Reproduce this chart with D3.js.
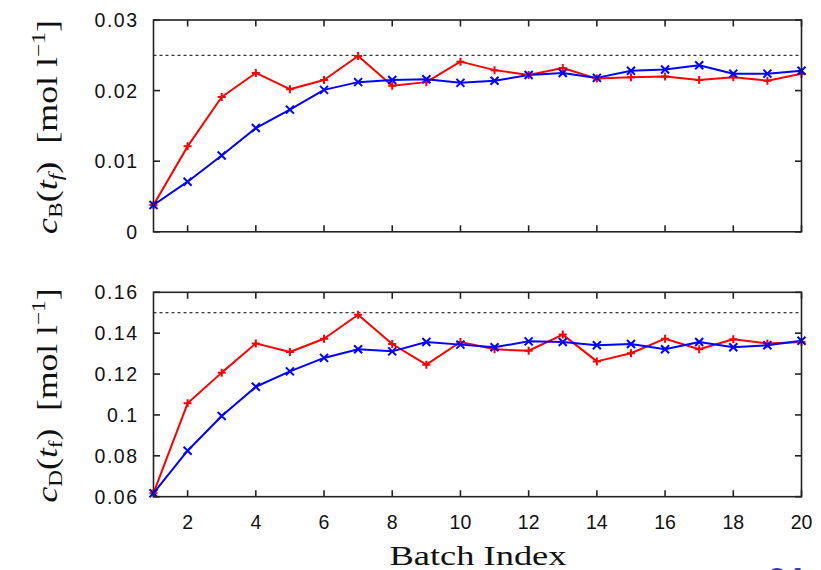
<!DOCTYPE html>
<html>
<head>
<meta charset="utf-8">
<script src="https://cdn.jsdelivr.net/npm/d3@7"></script>
<style>
  html, body { margin: 0; padding: 0; background: #fff; }
  svg { display: block; }
  .tick-label { font-family: "Liberation Sans", Arial, sans-serif; font-size: 19.5px; fill: #111; }
  .axis-title { font-family: "Liberation Serif", "DejaVu Serif", serif; fill: #111; }
</style>
</head>
<body>
<svg id="chart" width="821" height="570"></svg>
<script>
// Batch indices on the shared horizontal axis
const batches = [1, 2, 3, 4, 5, 6, 7, 8, 9, 10, 11, 12, 13, 14, 15, 16, 17, 18, 19, 20];
const xTicks = [2, 4, 6, 8, 10, 12, 14, 16, 18, 20];

// Final concentration of B per batch
const cB_red  = [0.0038, 0.0121, 0.0191, 0.0225, 0.0202, 0.0215, 0.0249, 0.0207, 0.0212, 0.0241,
                 0.0229, 0.0222, 0.0232, 0.0217, 0.0219, 0.0220, 0.0215, 0.0219, 0.0214, 0.0224];
const cB_blue = [0.0038, 0.0071, 0.0108, 0.0147, 0.0173, 0.0201, 0.0212, 0.0215, 0.0216, 0.0211,
                 0.0214, 0.0222, 0.0225, 0.0218, 0.0228, 0.0230, 0.0236, 0.0224, 0.0224, 0.0228];
const cB_target = 0.025;
const cB_ticks = [0, 0.01, 0.02, 0.03];
const cB_tickLabels = ["0", "0.01", "0.02", "0.03"];

// Final concentration of D per batch
const cD_red  = [0.0617, 0.1057, 0.1207, 0.1350, 0.1308, 0.1373, 0.1490, 0.1347, 0.1246, 0.1357,
                 0.1321, 0.1314, 0.1393, 0.1262, 0.1302, 0.1373, 0.1321, 0.1370, 0.1350, 0.1357];
const cD_blue = [0.0617, 0.0825, 0.0995, 0.1138, 0.1213, 0.1279, 0.1321, 0.1311, 0.1357, 0.1344,
                 0.1331, 0.1360, 0.1357, 0.1341, 0.1347, 0.1321, 0.1357, 0.1331, 0.1341, 0.1363];
const cD_target = 0.15;
const cD_ticks = [0.06, 0.08, 0.1, 0.12, 0.14, 0.16];
const cD_tickLabels = ["0.06", "0.08", "0.1", "0.12", "0.14", "0.16"];

const svg = d3.select("#chart");
const left = 153.5, right = 801.5;
const x = d3.scaleLinear().domain([1, 20]).range([left, right]);

const panels = [
  { top: 20, bottom: 231.8, domain: [0, 0.03], ticks: cB_ticks, labels: cB_tickLabels,
    red: cB_red, blue: cB_blue, target: cB_target, sub: "B", subItalic: true, showX: false },
  { top: 292.3, bottom: 496.7, domain: [0.06, 0.16], ticks: cD_ticks, labels: cD_tickLabels,
    red: cD_red, blue: cD_blue, target: cD_target, sub: "D", subItalic: false, showX: true }
];

const axisColor = "#222";
const tickLen = 6.5;

panels.forEach(p => {
  const y = d3.scaleLinear().domain(p.domain).range([p.bottom, p.top]);
  const g = svg.append("g");

  // reference level
  g.append("line")
    .attr("x1", x(1)).attr("x2", x(20))
    .attr("y1", y(p.target)).attr("y2", y(p.target))
    .attr("stroke", "#000").attr("stroke-width", 1)
    .attr("stroke-dasharray", "3,3");

  // series lines
  const line = d3.line().x((d, i) => x(batches[i])).y(d => y(d));
  g.append("path").datum(p.red).attr("d", line)
    .attr("fill", "none").attr("stroke", "#ff0000").attr("stroke-width", 2)
    .attr("stroke-linejoin", "round");
  g.append("path").datum(p.blue).attr("d", line)
    .attr("fill", "none").attr("stroke", "#0000ff").attr("stroke-width", 2)
    .attr("stroke-linejoin", "round");

  // markers: "+" for red, "x" for blue
  const s = 4;
  g.selectAll(".plus").data(p.red).enter().append("path")
    .attr("transform", (d, i) => `translate(${x(batches[i])},${y(d)})`)
    .attr("d", `M${-s},0L${s},0M0,${-s}L0,${s}`)
    .attr("stroke", "#ff0000").attr("stroke-width", 2).attr("fill", "none");
  g.selectAll(".cross").data(p.blue).enter().append("path")
    .attr("transform", (d, i) => `translate(${x(batches[i])},${y(d)})`)
    .attr("d", `M${-s},${-s}L${s},${s}M${-s},${s}L${s},${-s}`)
    .attr("stroke", "#0000ff").attr("stroke-width", 2).attr("fill", "none");

  // frame
  g.append("rect")
    .attr("x", left).attr("y", p.top)
    .attr("width", right - left).attr("height", p.bottom - p.top)
    .attr("fill", "none").attr("stroke", axisColor).attr("stroke-width", 1.6);

  // inward ticks on all four sides
  xTicks.forEach(t => {
    g.append("line").attr("x1", x(t)).attr("x2", x(t))
      .attr("y1", p.bottom).attr("y2", p.bottom - tickLen)
      .attr("stroke", axisColor).attr("stroke-width", 1.6);
    g.append("line").attr("x1", x(t)).attr("x2", x(t))
      .attr("y1", p.top).attr("y2", p.top + tickLen)
      .attr("stroke", axisColor).attr("stroke-width", 1.6);
  });
  p.ticks.forEach((t, i) => {
    g.append("line").attr("x1", left).attr("x2", left + tickLen)
      .attr("y1", y(t)).attr("y2", y(t))
      .attr("stroke", axisColor).attr("stroke-width", 1.6);
    g.append("line").attr("x1", right).attr("x2", right - tickLen)
      .attr("y1", y(t)).attr("y2", y(t))
      .attr("stroke", axisColor).attr("stroke-width", 1.6);
    g.append("text").attr("class", "tick-label")
      .attr("x", 138.5).attr("y", y(t) + 7)
      .attr("text-anchor", "end")
      .attr("letter-spacing", 1.5)
      .text(p.labels[i]);
  });

  if (p.showX) {
    xTicks.forEach(t => {
      g.append("text").attr("class", "tick-label")
        .attr("x", x(t)).attr("y", 529)
        .attr("text-anchor", "middle")
        .text(t);
    });
  }

  // vertical axis title: c_X(t_f) [mol l^-1]
  const cy = (p.top + p.bottom) / 2 + 1;
  const title = g.append("text").attr("class", "axis-title")
    .attr("transform", `translate(57,${cy}) rotate(-90)`)
    .attr("text-anchor", "middle")
    .attr("font-size", 29)
    .attr("textLength", 214).attr("lengthAdjust", "spacingAndGlyphs");
  title.append("tspan").attr("font-style", "italic").text("c");
  title.append("tspan").attr("font-size", 19).attr("dy", 5).text(p.sub);
  title.append("tspan").attr("dy", -5).text("(");
  title.append("tspan").attr("font-style", "italic").text("t");
  title.append("tspan").attr("font-size", 19).attr("dy", 5)
    .attr("font-style", p.subItalic ? "italic" : "normal").text("f");
  title.append("tspan").attr("dy", -5).text(")\u2002[mol l");
  title.append("tspan").attr("font-size", 19).attr("dy", -12).text("\u22121");
  title.append("tspan").attr("dy", 12).text("]");
});

// horizontal axis title
svg.append("text").attr("class", "axis-title")
  .attr("x", 478).attr("y", 565)
  .attr("text-anchor", "middle")
  .attr("font-size", 28)
  .attr("textLength", 177).attr("lengthAdjust", "spacingAndGlyphs")
  .text("Batch Index");

// page number in the corner
svg.append("text")
  .attr("x", 768).attr("y", 590)
  .attr("font-family", "Liberation Sans, Arial, sans-serif")
  .attr("font-size", 32).attr("font-weight", "bold")
  .attr("fill", "#3a3ab4")
  .text("24");
</script>
</body>
</html>
